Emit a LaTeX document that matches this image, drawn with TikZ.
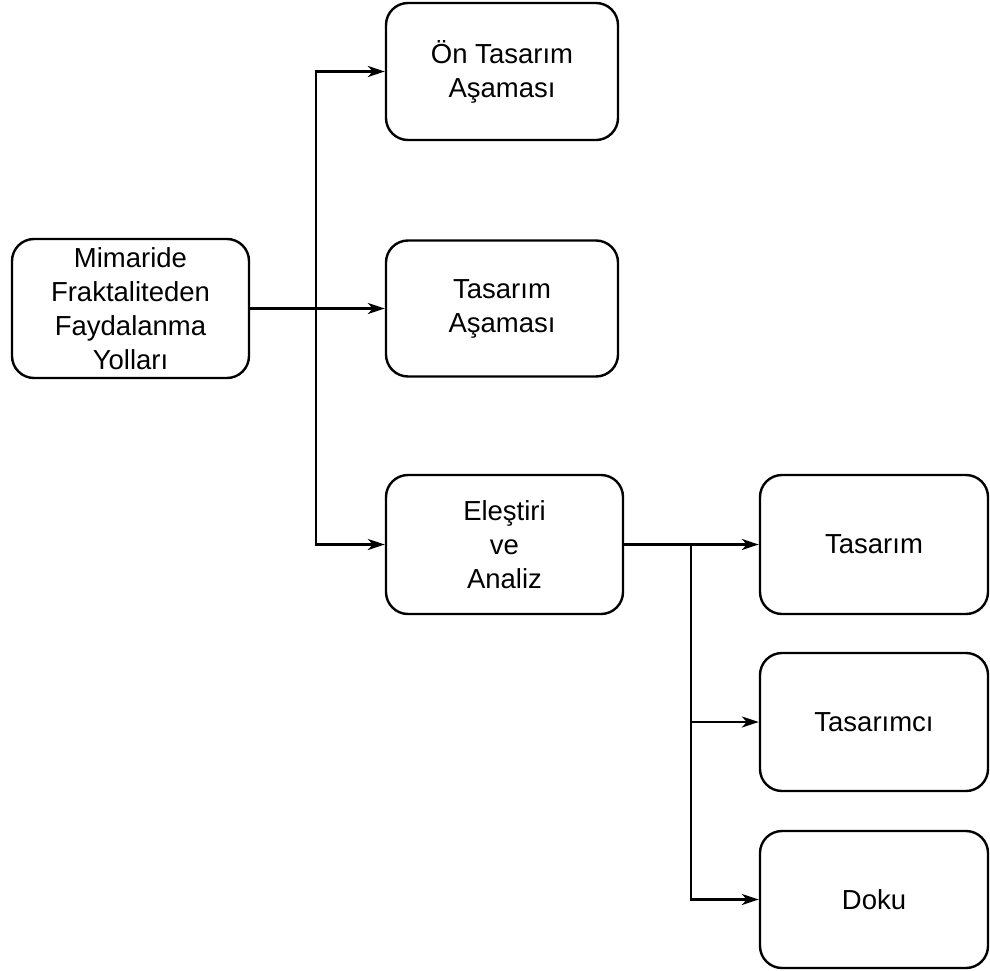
\documentclass[tikz,border=0pt]{standalone}
\usepackage{fontspec}
\setmainfont{Liberation Sans}
\usetikzlibrary{arrows.meta}
\begin{document}
\begin{tikzpicture}[x=1pt,y=-1pt,
  box/.style={draw=black,line width=2.4pt,rounded corners=22pt,align=center,inner sep=0pt,
    font=\fontsize{27.5}{34}\selectfont},
  arr/.style={line width=2.4pt,-{Stealth[length=17pt,width=11pt,inset=5pt]}}]
\useasboundingbox (0,0) rectangle (990,971);
\node[box,minimum width=237pt,minimum height=139pt] (root) at (130.5,308.5) {Mimaride\\Fraktaliteden\\Faydalanma\\Yolları};
\node[box,minimum width=232pt,minimum height=137pt] (b1) at (502,71.5) {Ön Tasarım\\Aşaması};
\node[box,minimum width=232pt,minimum height=136pt] (b2) at (502,308.5) {Tasarım\\Aşaması};
\node[box,minimum width=237pt,minimum height=139pt] (b3) at (504.5,544.5) {Eleştiri\\ve\\Analiz};
\node[box,minimum width=228pt,minimum height=139pt] (b4) at (874,544.5) {Tasarım};
\node[box,minimum width=228pt,minimum height=138pt] (b5) at (874,722) {Tasarımcı};
\node[box,minimum width=228pt,minimum height=137pt] (b6) at (874,899.5) {Doku};
\coordinate (j1) at (316,308.5);
\coordinate (j2) at (691,544.5);
\draw[arr] (root.east) -- (b2.west);
\draw[arr] (j1) |- (b1.west);
\draw[arr] (j1) |- (b3.west);
\draw[arr] (b3.east) -- (b4.west);
\draw[arr] (j2) |- (b5.west);
\draw[arr] (j2) |- (b6.west);
\end{tikzpicture}
\end{document}
